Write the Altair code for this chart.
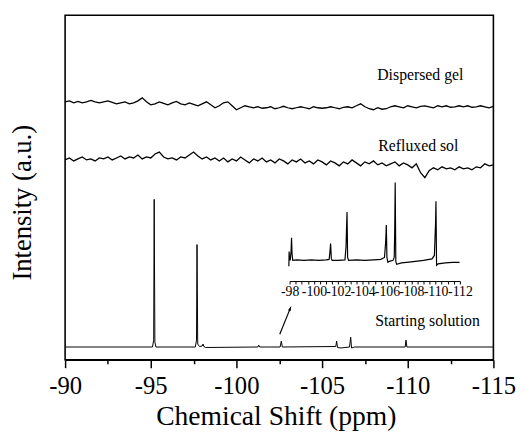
import altair as alt
import pandas as pd

# ---- data (y in arbitrary intensity units) ----
grid_start, grid_step = -90.0, -0.25
gel_y = [262,263,261,262.5,261,262,263.5,262,261,262,263,261.5,260,
         261,262,260,261,263,266,262,259,
         260,262,260.5,259,261,262.5,260,259,
         261,259.5,258,260,262,259,256,258,
         261,262,258,254,256,258,257,256,
         257,255.5,256,257,255,256,257.5,256,
         255,256,257,256,255,257,256,255.5,
         256,257,256,255,256.5,257,256,258,
         260,257,255,254,256,254.5,255,257,
         258,257,256,258,257,256,257.5,258,
         257,256,258,257,258,256.5,257,258,
         257,258,256.5,257,258,257,256,257.5]
sol_y = [203,205,202,204,206,203,204,202,205,204,206,203,205,
         207,204,206,205,208,204,206,205,
         209,211,206,204,205,203,206,205,
         208,211,207,204,206,203,205,202,
         205,201,204,202,206,203,200,204,
         202,205,201,203,200,204,202,199,
         203,201,204,200,202,199,203,201,
         198,202,200,197,201,199,203,200,
         197,201,199,202,198,200,197,199,
         201,197,200,198,195,199,190,185,
         192,195,193,196,194,195,193,196,
         194,195,193,196,195,199,197,198]
grid_x = [grid_start + grid_step * i for i in range(len(gel_y))]

start_x = [-90, -95.1, -95.17, -95.2, -95.24, -95.3, -97.6, -97.67, -97.7, -97.74, -97.85,
           -98.0, -98.05, -98.1, -98.2, -101.25, -101.3, -101.35, -102.55, -102.62, -102.68,
           -105.8, -105.85, -105.9, -106.1, -106.6, -106.67, -106.72, -106.9,
           -109.85, -109.9, -109.95, -115]
start_y = [13, 13, 20, 163, 18, 13, 13, 20, 117, 16, 13.5,
           14, 16, 13.5, 12.5, 13, 15, 13, 13, 19, 13,
           13.5, 19, 12.5, 12, 13, 23, 12, 13,
           13, 20, 13, 13]

inset_x = [-97.94, -97.96, -97.99, -98.05, -98.12, -98.16, -98.2, -98.26, -98.6, -99.2,
           -99.8, -100.4, -101.0, -101.25, -101.32, -101.37, -101.43, -101.5, -102.0,
           -102.55, -102.64, -102.72, -102.77, -102.85, -103.5, -104.2, -104.9, -105.5,
           -105.8, -105.9, -105.95, -106.0, -106.08, -106.2, -106.5, -106.6, -106.64,
           -106.68, -106.73, -106.8, -107.2, -108.0, -109.0, -109.7, -109.9, -110.0,
           -110.03, -110.08, -110.2, -110.8, -111.4, -111.97]
inset_y = [95, 110, 104, 101, 110, 124, 108, 101, 101.5, 101,
           101.5, 101, 101.5, 102, 110, 118, 103, 101, 101,
           101.5, 115, 150, 104, 101, 101.5, 101, 101.5, 102,
           104, 120, 137, 104, 99, 100, 101, 104, 130,
           180, 100, 97, 98.5, 99.5, 101, 102.5, 106, 140,
           161, 96, 97.5, 98.5, 99, 99]

main_ticks = [-90, -92.5, -95, -97.5, -100, -102.5, -105, -107.5, -110, -112.5, -115]
inset_ticks = [-98 - 0.5 * i for i in range(29)]

label_text = ["Dispersed gel", "Refluxed sol", "Starting solution"]
label_x = [-108.22, -108.28, -108.1]
label_y = [284, 212, 34]

arrow = pd.DataFrame({"x": [-102.53], "y": [26], "x2": [-103.13], "y2": [51.7]})

# ---- tables ----
gel = pd.DataFrame({"x": grid_x, "y": gel_y})
sol = pd.DataFrame({"x": grid_x, "y": sol_y})
start = pd.DataFrame({"x": start_x, "y": start_y})
inset = pd.DataFrame({"x": inset_x, "y": inset_y})
labels = pd.DataFrame({"text": label_text, "x": label_x, "y": label_y})

FONT = "'Liberation Serif', 'Times New Roman', Times, 'DejaVu Serif', serif"

x_scale = alt.Scale(domain=[-90, -115], nice=False, zero=False)
y_scale = alt.Scale(domain=[0, 350], nice=False, zero=False)

x_axis = alt.Axis(
    values=main_ticks, grid=False,
    labelExpr="datum.value % 5 === 0 ? '-' + abs(datum.value) : ''",
    tickSize={"condition": {"test": "datum.value % 5 === 0", "value": 8}, "value": 4},
    tickColor="black", tickWidth=1.5, domainColor="black", domainWidth=1.5,
    labelFont=FONT, labelFontSize=25, labelColor="black", labelBaseline="alphabetic",
    labelPadding=26, labelOverlap=False, labelFlush=False,
    title="Chemical Shift (ppm)", titleFont=FONT, titleFontSize=28, titleFontWeight="normal",
    titleColor="black", titleBaseline="alphabetic", titleX=214, titleY=66, titleAlign="center",
)
y_axis = alt.Axis(
    domain=False, ticks=False, labels=False, grid=False,
    title="Intensity (a.u.)", titleFont=FONT, titleFontSize=27, titleFontWeight="normal",
    titleColor="black", titleBaseline="alphabetic", titleX=-35, titleY=190, titleAlign="center",
)

X = alt.X("x:Q", scale=x_scale, axis=x_axis)
Y = alt.Y("y:Q", scale=y_scale, axis=y_axis)

gel_line = alt.Chart(gel).mark_line(color="black", strokeWidth=1.3).encode(x=X, y=Y)
sol_line = alt.Chart(sol).mark_line(color="black", strokeWidth=1.3).encode(x=X, y=Y)
start_line = alt.Chart(start).mark_line(color="black", strokeWidth=1).encode(x=X, y=Y)
text = alt.Chart(labels).mark_text(
    align="left", baseline="alphabetic", font=FONT, fontSize=16, color="black"
).encode(x=X, y=Y, text="text:N")
arrow_line = alt.Chart(arrow).mark_rule(color="black", strokeWidth=1.2).encode(
    x=X, y=Y, x2="x2:Q", y2="y2:Q")
arrow_head = alt.Chart(arrow).mark_point(
    shape="M0,-1L0.4,0.6L-0.4,0.6Z", filled=True, color="black", opacity=1, size=50, angle=22
).encode(x=alt.X("x2:Q", scale=x_scale, axis=x_axis), y=alt.Y("y2:Q", scale=y_scale, axis=y_axis))

main = alt.layer(gel_line, sol_line, start_line, text, arrow_line, arrow_head)

inset_axis = alt.Axis(
    orient="bottom", offset=-80, values=inset_ticks, grid=False, title=None,
    labelExpr="datum.value % 2 === 0 ? '-' + abs(datum.value) : ''",
    tickSize=3, tickColor="black", tickWidth=1, domainColor="black", domainWidth=1,
    labelFont=FONT, labelFontSize=14, labelColor="black", labelBaseline="alphabetic",
    labelPadding=12, labelOverlap=False, labelFlush=False,
)
inset_line = alt.Chart(inset).mark_line(color="black", strokeWidth=1.2).encode(
    x=alt.X("x:Q", scale=alt.Scale(domain=[-98, -112], range=[228, 401], nice=False, zero=False),
            axis=inset_axis),
    y=alt.Y("y:Q", scale=y_scale, axis=None),
)

chart = alt.layer(main, inset_line).resolve_scale(x="independent", y="independent").properties(
    width=435, height=350,
    padding={"left": 58, "top": 4, "right": 26, "bottom": 69},
    autosize=alt.AutoSizeParams(type="none"),
).configure_view(stroke="black", strokeWidth=1.6)

chart.save("out.html", embed_options={"renderer": "svg", "actions": False})
